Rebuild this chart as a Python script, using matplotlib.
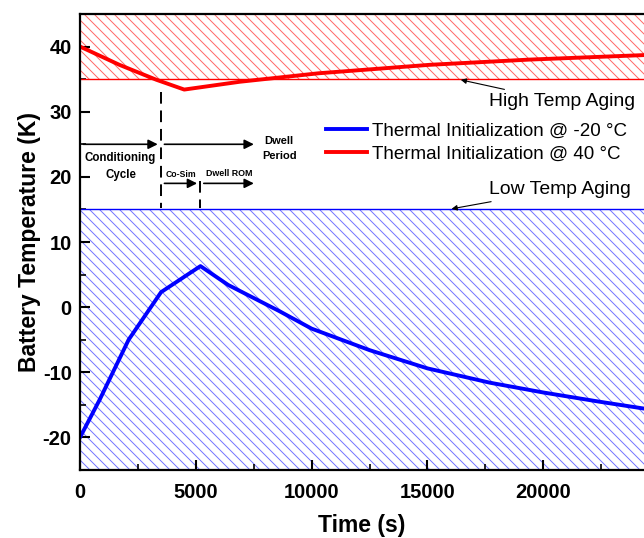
import numpy as np
import matplotlib.pyplot as plt

DPI = 120          # with 4 backslashes the hatch comes out ~10 px apart
k = 100 / DPI      # sizes below are written as if at 100 dpi

plt.rcParams['font.family'] = ['Liberation Sans', 'DejaVu Sans']
plt.rcParams['hatch.linewidth'] = 0.7 * k
plt.rcParams['axes.unicode_minus'] = False

# data
t_cold = [0, 850, 2100, 3500, 5200, 6400, 8600, 10000, 12500, 15000, 17700, 20000, 22400, 24400]
T_cold = [-20, -14.2, -5.0, 2.3, 6.3, 3.4, -0.6, -3.3, -6.6, -9.4, -11.6, -13.1, -14.5, -15.6]

t_hot = [0, 1700, 3300, 4500, 6900, 10300, 15100, 19400, 24400]
T_hot = [40, 37.2, 34.9, 33.4, 34.6, 35.9, 37.2, 38.0, 38.7]

high_band = (35, 45)
low_band = (-25, 15)
phase_t = [3500, 5200]

fig = plt.figure(figsize=(644 / DPI, 538 / DPI), dpi=DPI)
ax = fig.add_axes([80/644, 68/538, 564/644, 456/538])

ax.axhspan(*high_band, facecolor='none', edgecolor=(1, 0, 0, 0.6), hatch='\\\\\\\\', lw=0)
ax.axhspan(*low_band, facecolor='none', edgecolor=(0, 0, 1, 0.55), hatch='\\\\\\\\', lw=0)
ax.axhline(high_band[0], color='red', lw=1 * k)
ax.axhline(low_band[1], color='blue', lw=1 * k)

ax.plot(t_cold, T_cold, color='blue', lw=2.8 * k, label='Thermal Initialization @ -20 °C')
ax.plot(t_hot, T_hot, color='red', lw=2.8 * k, label='Thermal Initialization @ 40 °C')

# phase markers
ax.plot([phase_t[0]]*2, [33.1, 15.2], color='black', lw=1.4 * k, ls=(0, (6, 3.5)))
ax.plot([phase_t[1]]*2, [19.3, 15.2], color='black', lw=1.4 * k, ls=(0, (6, 3.5)))

arr = dict(arrowstyle='-|>', color='black', lw=1.2 * k, mutation_scale=14 * k)
ax.annotate('', xy=(phase_t[0], 25), xytext=(0, 25), arrowprops=arr)
ax.annotate('', xy=(7650, 25), xytext=(phase_t[0], 25), arrowprops=arr)
ax.annotate('', xy=(phase_t[1], 19), xytext=(phase_t[0], 19), arrowprops=arr)
ax.annotate('', xy=(7650, 19), xytext=(phase_t[1], 19), arrowprops=arr)

ax.text(1750, 21.6, 'Conditioning\nCycle', ha='center', va='center', fontsize=8.3 * k,
        fontweight='bold', linespacing=1.6)
ax.text(8600, 24.4, 'Dwell\nPeriod', ha='center', va='center', fontsize=8 * k,
        fontweight='bold', linespacing=1.6)
ax.text(4350, 20.3, 'Co-Sim', ha='center', va='center', fontsize=6.2 * k, fontweight='bold')
ax.text(6450, 20.5, 'Dwell ROM', ha='center', va='center', fontsize=6.4 * k, fontweight='bold')

tip = dict(arrowstyle='-|>', color='black', lw=0.8 * k, mutation_scale=8 * k)
ax.annotate('High Temp Aging', xy=(16300, 35), xytext=(17650, 31.5), fontsize=14 * k,
            va='center', arrowprops=tip)
ax.annotate('Low Temp Aging', xy=(15900, 15), xytext=(17650, 18.1), fontsize=14 * k,
            va='center', arrowprops=tip)

ax.legend(loc='upper left', bbox_to_anchor=(0.41, 0.795), frameon=False, fontsize=13.5 * k,
          handlelength=2.2, handletextpad=0.25, labelspacing=0.3, borderpad=0.3)

ax.set_xlim(0, 24350)
ax.set_ylim(-25, 45)
ax.set_xticks([0, 5000, 10000, 15000, 20000])
ax.set_xticks(np.arange(2500, 24000, 5000), minor=True)
ax.set_yticks([-20, -10, 0, 10, 20, 30, 40])
ax.set_yticks(np.arange(-25, 46, 5), minor=True)
ax.tick_params(direction='in', width=1.5 * k, length=7 * k, labelsize=14.5 * k, pad=6 * k)
ax.tick_params(axis='x', pad=9 * k)
ax.tick_params(which='minor', direction='in', width=1.2 * k, length=4 * k)
for lbl in ax.get_xticklabels() + ax.get_yticklabels():
    lbl.set_fontweight('bold')
ax.spines['right'].set_visible(False)
for s in ['left', 'bottom', 'top']:
    ax.spines[s].set_linewidth(1.6 * k)

ax.set_xlabel('Time (s)', fontsize=16.5 * k, fontweight='bold', labelpad=9 * k)
ax.set_ylabel('Battery Temperature (K)', fontsize=16.5 * k, fontweight='bold', labelpad=1)

fig.savefig('out.png', dpi=DPI)
